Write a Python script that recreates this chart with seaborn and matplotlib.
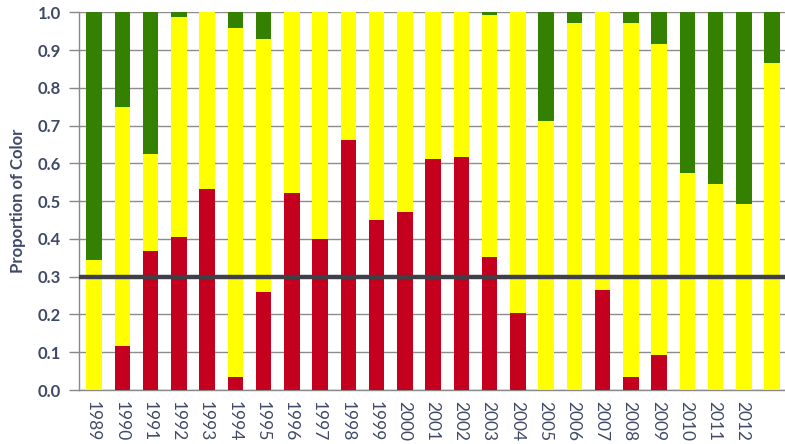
import numpy as np
import pandas as pd
import matplotlib
matplotlib.use("Agg")
import matplotlib.pyplot as plt
import seaborn as sns

# Proportion of each colour rating per year (segments stacked red -> yellow -> green)
years = [str(y) for y in range(1989, 2014)]
red = [0.000, 0.117, 0.368, 0.406, 0.532, 0.034, 0.260, 0.522, 0.400, 0.663,
       0.450, 0.471, 0.611, 0.616, 0.351, 0.203, 0.000, 0.000, 0.265, 0.035,
       0.092, 0.000, 0.000, 0.000, 0.000]
yellow = [0.344, 0.631, 0.257, 0.582, 0.468, 0.924, 0.669, 0.478, 0.600, 0.337,
          0.550, 0.529, 0.389, 0.384, 0.642, 0.797, 0.711, 0.971, 0.735, 0.936,
          0.823, 0.575, 0.545, 0.492, 0.867]
green = [0.656, 0.252, 0.375, 0.012, 0.000, 0.042, 0.071, 0.000, 0.000, 0.000,
         0.000, 0.000, 0.000, 0.000, 0.007, 0.000, 0.289, 0.029, 0.000, 0.029,
         0.085, 0.425, 0.455, 0.508, 0.133]
tick_labels = years[:-1] + [""]
threshold = 0.3

df = pd.DataFrame({"year": years, "red": red, "yellow": yellow, "green": green})
df["red_top"] = df["red"]
df["yellow_top"] = df["red"] + df["yellow"]
df["green_top"] = df["yellow_top"] + df["green"]

sns.set_style("white")
plt.rcParams["font.family"] = ["Lato", "DejaVu Sans"]

text_col = "#404a68"
fig = plt.figure(figsize=(7.85, 4.44), dpi=100)
ax = fig.add_axes([79 / 785, 1 - 390 / 444, 1 - 79 / 785, (390 - 12.3) / 444])

bw = 0.55
sns.barplot(data=df, x="year", y="green_top", color="#348000", width=bw,
            saturation=1, ax=ax, zorder=2)
sns.barplot(data=df, x="year", y="yellow_top", color="#ffff00", width=bw,
            saturation=1, ax=ax, zorder=3)
sns.barplot(data=df, x="year", y="red_top", color="#c4001e", width=bw,
            saturation=1, ax=ax, zorder=4)
# nudge bars slightly right of the category centres
for p in ax.patches:
    p.set_x(p.get_x() + 0.04)
    p.set_linewidth(0)

ax.axhline(threshold, color="#3f3f48", lw=3.2, zorder=6)

ax.set_ylim(0, 1.0)
ax.set_xlim(-0.5, 24.27)
ax.set_yticks(np.arange(0, 1.01, 0.1))
ax.set_yticklabels([f"{v:.1f}" for v in np.arange(0, 1.01, 0.1)],
                   fontsize=12, fontweight="bold", color=text_col)
ax.yaxis.grid(True, color="#8c8c8c", lw=1.0, zorder=0)
ax.set_axisbelow(True)

ax.set_xticks(range(len(years)))
ax.set_xticklabels(tick_labels, rotation=270, fontsize=12.5, color=text_col,
                   va="top", ha="center")
ax.set_xticks(np.arange(-0.5, len(years)), minor=True)
ax.tick_params(axis="x", which="major", length=0, pad=8)
ax.tick_params(axis="x", which="minor", length=6, width=1, color="#888888",
               direction="out")
ax.tick_params(axis="y", length=7, width=1, color="#888888", direction="out",
               pad=6, left=True)

ax.set_xlabel("")
ax.set_ylabel("Proportion of Color", fontsize=12, fontweight="bold",
              color=text_col, labelpad=8)

for s in ["top", "right"]:
    ax.spines[s].set_visible(False)
for s in ["left", "bottom"]:
    ax.spines[s].set_color("#888888")
    ax.spines[s].set_linewidth(1)

fig.savefig("out.png", dpi=100)
